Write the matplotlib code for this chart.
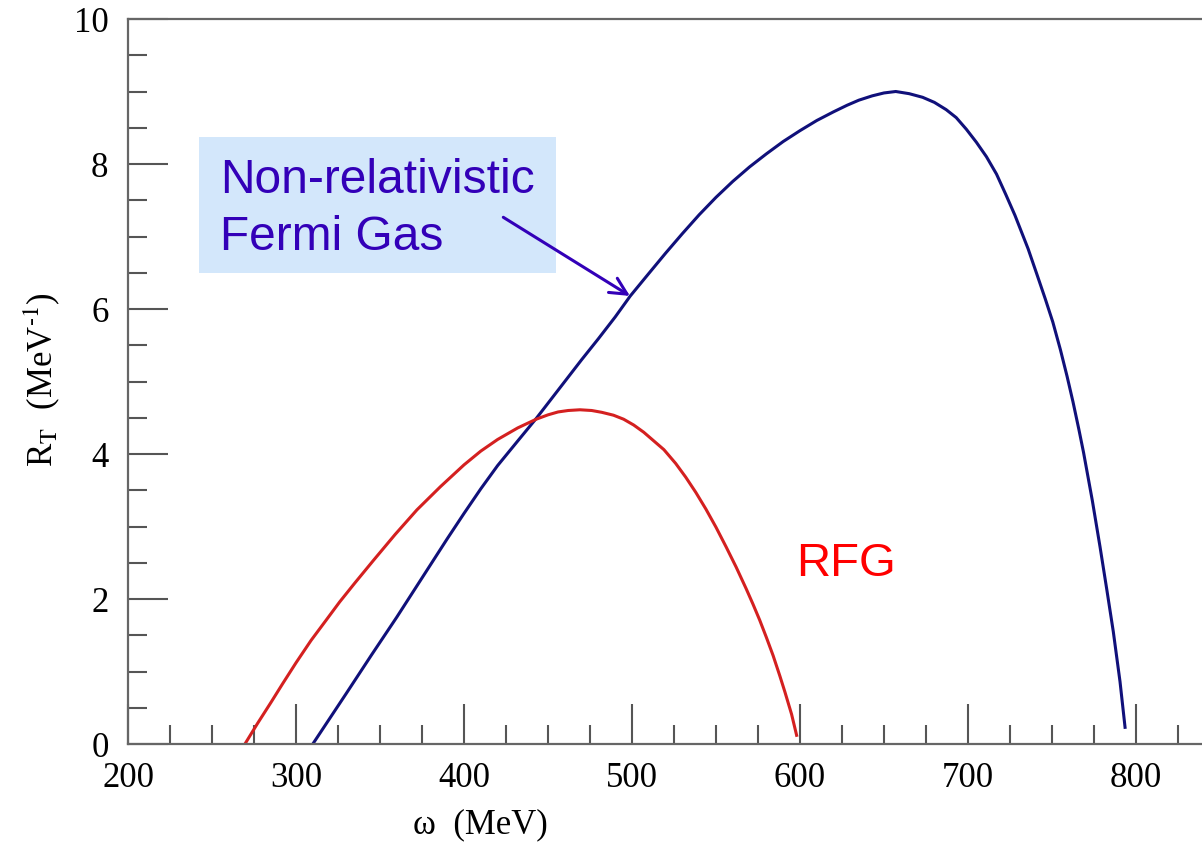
import matplotlib
matplotlib.use("Agg")
import matplotlib.pyplot as plt
from matplotlib.patches import Rectangle
from matplotlib.ticker import MultipleLocator

plt.rcParams['font.family'] = ['Liberation Serif', 'DejaVu Serif']
plt.rcParams['mathtext.fontset'] = 'stix'

# non-relativistic Fermi gas (blue)
nr_omega = [310, 320, 330, 345, 360, 370, 380, 390, 400, 410, 420, 432, 443, 452, 461,
            470, 480, 490, 499, 510, 520, 530, 540, 550, 560, 570, 580, 590, 600, 610,
            620, 628, 635, 643, 650, 657, 665, 673, 680, 687, 693, 699, 705, 711, 717,
            722.5, 728, 735.8, 741, 746, 750.5, 755, 759, 762.5, 766, 768.8, 774, 778.6,
            782.7, 786.5, 790.5, 793.5]
nr_rt = [0.0, 0.35, 0.70, 1.23, 1.75, 2.11, 2.47, 2.83, 3.18, 3.52, 3.84, 4.18, 4.49, 4.76, 5.03,
         5.30, 5.59, 5.89, 6.18, 6.49, 6.77, 7.04, 7.30, 7.54, 7.76, 7.96, 8.14, 8.31, 8.46, 8.60,
         8.72, 8.81, 8.88, 8.94, 8.98, 9.00, 8.97, 8.92, 8.85, 8.75, 8.64, 8.48, 8.30, 8.10, 7.86,
         7.58, 7.29, 6.83, 6.48, 6.14, 5.82, 5.44, 5.07, 4.72, 4.34, 4.02, 3.36, 2.72,
         2.12, 1.55, 0.86, 0.23]

# relativistic Fermi gas (red)
rfg_omega = [269.6, 277, 285, 292, 300, 309, 318, 326, 335, 346, 359, 372, 386, 400,
             410, 420, 432, 443, 450, 456, 462, 469, 476, 482, 489, 495, 501, 507, 513,
             519, 526, 532, 538, 544, 550, 556, 562, 568, 572, 576, 580, 584, 588, 591,
             595, 598]
rfg_rt = [0.0, 0.28, 0.57, 0.83, 1.12, 1.43, 1.71, 1.96, 2.22, 2.53, 2.89, 3.23, 3.55, 3.85,
          4.04, 4.20, 4.36, 4.48, 4.54, 4.58, 4.60, 4.61, 4.60, 4.575, 4.535, 4.48, 4.40, 4.30, 4.18,
          4.06, 3.87, 3.68, 3.47, 3.24, 2.99, 2.72, 2.44, 2.14, 1.93, 1.71, 1.47, 1.22, 0.94, 0.72,
          0.41, 0.12]

fig = plt.figure(figsize=(12.02, 8.54), dpi=100)
ax = fig.add_axes([128/1202, 109/854, 1 - 128/1202, 725/854])

ax.plot(nr_omega, nr_rt, color='#10107a', lw=2.2, solid_joinstyle='round')
ax.plot(rfg_omega, rfg_rt, color='#d42020', lw=2.2, solid_joinstyle='round')

ax.set_xlim(200, 839.3)
ax.set_ylim(0, 10)
ax.xaxis.set_major_locator(MultipleLocator(100))
ax.xaxis.set_minor_locator(MultipleLocator(25))
ax.yaxis.set_major_locator(MultipleLocator(2))
ax.yaxis.set_minor_locator(MultipleLocator(0.5))
ax.tick_params(which='both', direction='in', colors='#555555', labelcolor='black',
               labelsize=25, width=1.5, top=False, right=False)
ax.tick_params(which='major', length=29, pad=12)
ax.tick_params(which='minor', length=14)
ax.tick_params(axis='y', which='major', pad=14)
for s in ['left', 'bottom', 'top']:
    ax.spines[s].set_color('#666666')
    ax.spines[s].set_linewidth(1.6)
ax.spines['right'].set_visible(False)

fig.text(480/1202, 1 - 825/854, 'ω  (MeV)', ha='center', va='center', fontsize=25)
fig.text(42/1202, 1 - 380/854, r'R$_{\mathrm{T}}$  (MeV$^{\mathrm{‐1}}$)', ha='center',
         va='center', rotation=90, fontsize=25)

# annotation box
ax.add_patch(Rectangle((242.3, 6.497), 454.8 - 242.3, 8.372 - 6.497,
                       facecolor='#d3e7fb', edgecolor='none', zorder=1))
ann_color = '#3300b8'
ax.text(254.8, 7.61, 'Non-relativistic', family='Liberation Sans', fontsize=34.5,
        color=ann_color, va='baseline', ha='left', zorder=3)
ax.text(254.8, 6.83, 'Fermi Gas', family='Liberation Sans', fontsize=34.5,
        color=ann_color, va='baseline', ha='left', zorder=3)
ax.annotate('', xy=(498.8, 6.18), xytext=(423.4, 7.265),
            arrowprops=dict(arrowstyle='->', color=ann_color, lw=2.2,
                            mutation_scale=30, shrinkA=0, shrinkB=0), zorder=3)
ax.text(597.5, 2.33, 'RFG', family='Liberation Sans', fontsize=34, color='#ff0000',
        va='baseline', ha='left')

fig.savefig('out.png', dpi=100)
